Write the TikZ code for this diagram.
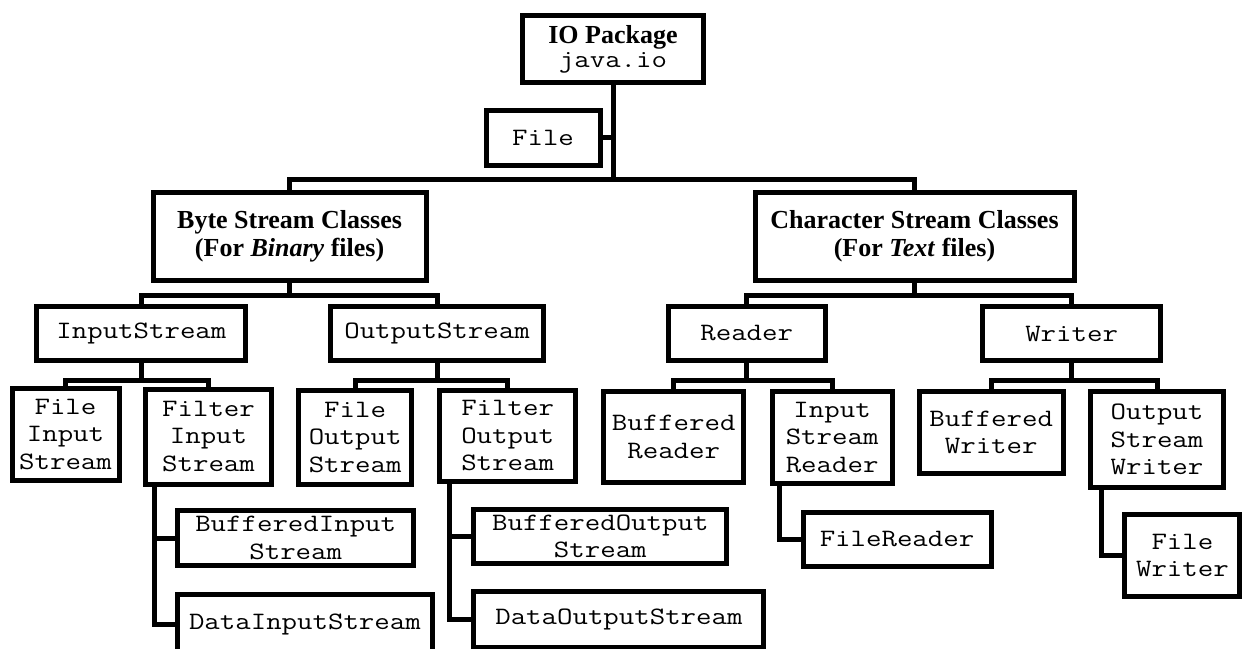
\documentclass[tikz,border=0pt]{standalone}
\usepackage{fontspec}
\setmainfont{Liberation Serif}
\newfontfamily\kastenfont{Latin Modern Mono}[FakeStretch=1.2]
\tikzset{
	kasten/.style={draw, line width=2.5pt, align=center, inner sep=0pt,
		font=\kastenfont\fontsize{12.5}{13.75}\selectfont},
	kopf/.style={kasten, font=\rmfamily\bfseries\fontsize{13}{14}\selectfont}
}
\begin{document}
\begin{tikzpicture}[x=0.5pt,y=-0.5pt,line width=2.5pt]
\useasboundingbox (0,0) rectangle (1247,648);
% Kasten: Name, x, y, Breite, Hoehe, Text
\def\klasse#1#2#3#4#5#6{
	\node[kasten, minimum width=#4*0.5pt, minimum height=#5*0.5pt] (#1) at (#2,#3) {#6};
}
\def\gabel#1#2#3#4{
	\draw (#1.south) -- ++(0,#4) -| (#2.north);
	\draw (#1.south) ++(0,#4) -| (#3.north);
}
\def\seite#1#2#3{
	\draw (#1.south west) ++(#2,0) |- (#3.west);
}
\node[kopf, minimum width=90.5pt, minimum height=33.5pt] (io) at (613,49)
	{IO Package\\[-2pt]\kastenfont\mdseries\fontsize{12.5}{12}\selectfont java.io};
\klasse{file}{543}{137.5}{114}{55}{File}
\node[kopf, minimum width=136.5pt, minimum height=44pt] (byte) at (289.6,236.5)
	{Byte Stream Classes\\(For \textit{Binary} files)};
\node[kopf, minimum width=159.5pt, minimum height=44pt] (charc) at (914.5,236.5)
	{Character Stream Classes\\(For \textit{Text} files)};
\klasse{instream}{141.4}{333.5}{209}{54}{InputStream}
\klasse{outstream}{437}{333.5}{213}{54}{OutputStream}
\klasse{reader}{746.7}{333.5}{157}{54}{Reader}
\klasse{writer}{1071.6}{333.5}{178}{54}{Writer}
\klasse{fis}{65.5}{434.5}{107}{92}{File\\Input\\Stream}
\klasse{filteris}{208.5}{436.5}{126}{95}{Filter\\Input\\Stream}
\klasse{fos}{355.1}{437.5}{112.6}{94}{File\\Output\\Stream}
\klasse{filteros}{507.6}{436}{136}{91}{Filter\\Output\\Stream}
\klasse{br}{673.7}{437}{140}{91}{Buffered\\Reader}
\klasse{isr}{832.1}{437.5}{120}{92}{Input\\Stream\\Reader}
\klasse{bw}{991.2}{432.5}{143.6}{82}{Buffered\\Writer}
\klasse{osw}{1157}{439.5}{133.7}{96}{Output\\Stream\\Writer}
\klasse{bis}{295.7}{538}{236}{55}{BufferedInput\\Stream}
\klasse{dis}{304.9}{624}{254.6}{60}{DataInputStream}
\klasse{bos}{600.3}{536.5}{252.7}{54}{BufferedOutput\\Stream}
\klasse{dos}{618.9}{619}{290}{56}{DataOutputStream}
\klasse{fr}{897}{539.5}{188}{54}{FileReader}
\klasse{fw}{1182.4}{555.5}{115}{82}{File\\Writer}
% Verbindungen
\coordinate (knick) at (613,179);
\draw (io.south) -- (knick);
\draw (file.east) -- (file.east -| knick);
\draw (byte.north) |- (knick) -| (charc.north);
\gabel{byte}{instream}{outstream}{12.5}
\gabel{charc}{reader}{writer}{12.5}
\gabel{instream}{fis}{filteris}{17.5}
\gabel{outstream}{fos}{filteros}{17.5}
\gabel{reader}{br}{isr}{17.5}
\gabel{writer}{bw}{osw}{17.5}
\seite{filteris}{11.2}{bis}
\seite{filteris}{11.2}{dis}
\seite{filteros}{12.2}{bos}
\seite{filteros}{12.2}{dos}
\seite{isr}{9.9}{fr}
\seite{osw}{13.4}{fw}
\end{tikzpicture}
\end{document}
